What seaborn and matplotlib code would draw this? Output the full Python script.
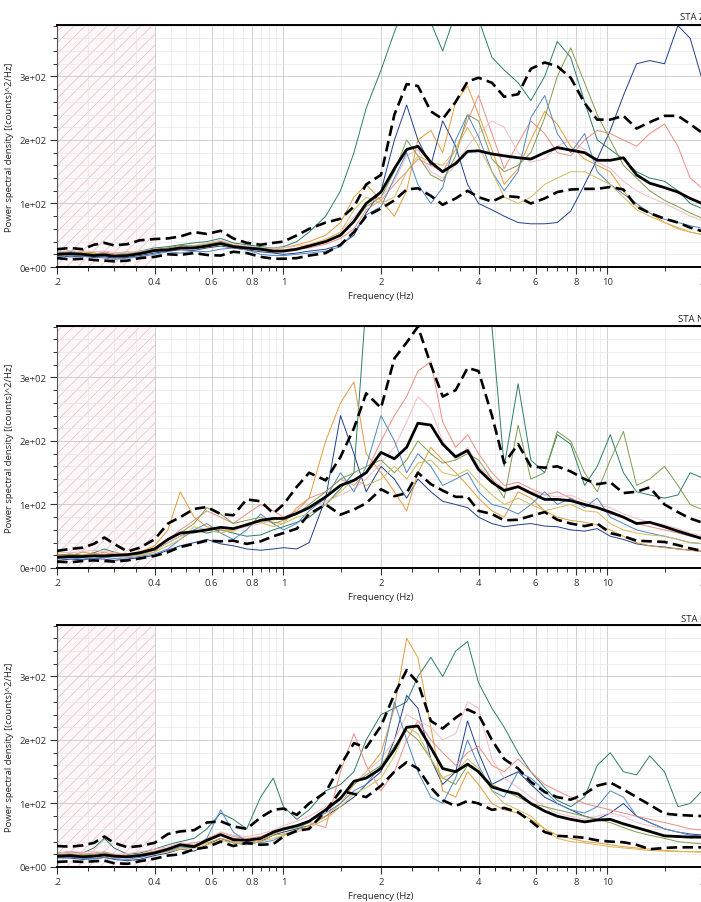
import matplotlib
matplotlib.use("Agg")
import matplotlib.pyplot as plt
import seaborn as sns
import pandas as pd
from matplotlib.ticker import FixedLocator, FixedFormatter, NullFormatter

# ---------------- data ----------------
FREQ = [0.2, 0.22, 0.24, 0.26, 0.28, 0.3, 0.33, 0.36, 0.4, 0.44,
        0.48, 0.53, 0.58, 0.64, 0.7, 0.77, 0.85, 0.93, 1.0, 1.1,
        1.2, 1.35, 1.5, 1.65, 1.8, 2.0, 2.2, 2.4, 2.6, 2.85,
        3.1, 3.4, 3.7, 4.0, 4.4, 4.8, 5.3, 5.8, 6.4, 7.0,
        7.7, 8.5, 9.3, 10.2, 11.2, 12.3, 13.5, 15, 16.5, 18,
        20]

PANEL_TITLES = ["STA Z", "STA N", "STA E"]

# ---- STA Z ----
Z_MEAN = [20, 21, 20, 18, 19, 17, 18, 21, 26, 27,
          30, 30, 33, 37, 32, 30, 28, 25, 25, 28,
          33, 40, 50, 72, 100, 118, 155, 185, 190, 165,
          150, 163, 182, 183, 178, 175, 172, 170, 180, 188,
          184, 180, 168, 168, 172, 145, 132, 125, 118, 108,
          98]
Z_UP = [28, 30, 28, 35, 38, 34, 36, 42, 44, 45,
        48, 55, 52, 57, 45, 38, 35, 38, 40, 50,
        60, 70, 76, 95, 130, 145, 240, 288, 285, 245,
        233, 260, 292, 298, 290, 268, 272, 312, 322, 316,
        298, 258, 232, 232, 238, 218, 228, 238, 238, 225,
        208]
Z_LO = [14, 12, 13, 11, 10, 9, 10, 14, 16, 20,
        19, 22, 19, 18, 24, 22, 16, 13, 13, 14,
        18, 22, 35, 55, 80, 92, 105, 122, 124, 112,
        98, 108, 120, 110, 103, 112, 110, 100, 108, 118,
        122, 123, 123, 126, 122, 95, 85, 76, 70, 62,
        55]
Z_T1 = [22, 24, 22, 20, 22, 20, 21, 25, 30, 32,
        35, 38, 40, 45, 38, 35, 32, 30, 32, 40,
        55, 80, 120, 180, 250, 310, 370, 420, 410, 385,
        340, 400, 420, 390, 330, 310, 290, 262, 300, 355,
        330, 260, 200, 185, 170, 150, 140, 135, 120, 100,
        90]
Z_T2 = [18, 16, 17, 15, 16, 14, 15, 18, 22, 25,
        27, 26, 30, 33, 30, 27, 24, 22, 20, 22,
        25, 28, 35, 50, 85, 120, 200, 255, 200, 160,
        230, 190, 130, 100, 90, 80, 70, 68, 68, 70,
        88, 130, 170, 215, 270, 320, 325, 320, 380, 360,
        280]
Z_T3 = [25, 22, 24, 22, 20, 22, 24, 22, 26, 28,
        32, 30, 35, 40, 35, 32, 30, 28, 30, 35,
        40, 50, 70, 110, 130, 105, 80, 120, 200, 215,
        180, 260, 285, 240, 185, 130, 155, 200, 245, 225,
        190, 170, 160, 150, 120, 95, 85, 70, 62, 55,
        50]
Z_T4 = [20, 22, 21, 20, 24, 20, 18, 20, 24, 26,
        28, 32, 31, 36, 30, 28, 27, 24, 26, 28,
        30, 36, 45, 60, 90, 105, 130, 150, 170, 160,
        150, 185, 230, 270, 210, 155, 195, 230, 210, 180,
        175, 200, 215, 210, 200, 190, 210, 225, 190, 140,
        120]
Z_T5 = [24, 26, 25, 24, 25, 23, 22, 25, 28, 30,
        32, 34, 38, 42, 36, 33, 30, 30, 30, 33,
        36, 42, 55, 78, 100, 110, 135, 175, 185, 150,
        140, 160, 190, 210, 230, 220, 180, 165, 170, 190,
        200, 185, 165, 155, 135, 120, 110, 100, 90, 80,
        72]
Z_T6 = [16, 18, 17, 16, 14, 12, 14, 16, 20, 24,
        22, 25, 24, 28, 30, 27, 20, 18, 18, 20,
        22, 25, 32, 55, 82, 95, 140, 180, 130, 100,
        125, 200, 240, 205, 150, 120, 150, 235, 270, 210,
        180, 210, 150, 130, 115, 100, 85, 75, 70, 65,
        60]
Z_T7 = [22, 20, 21, 22, 20, 18, 20, 23, 28, 30,
        34, 33, 36, 40, 34, 30, 30, 26, 25, 28,
        32, 40, 52, 70, 95, 110, 150, 200, 175, 145,
        135, 175, 240, 230, 170, 150, 160, 180, 235, 300,
        345, 290, 240, 200, 160, 140, 120, 105, 95, 85,
        75]
Z_T8 = [19, 21, 22, 20, 18, 17, 19, 22, 25, 27,
        29, 30, 32, 35, 32, 30, 28, 26, 27, 30,
        35, 44, 55, 90, 110, 100, 110, 150, 175, 165,
        160, 185, 220, 190, 150, 110, 100, 110, 130, 140,
        150, 150, 140, 130, 110, 90, 80, 70, 60, 55,
        50]

# ---- STA N ----
N_MEAN = [17, 18, 18, 19, 19, 20, 21, 24, 30, 45,
          55, 57, 60, 64, 62, 68, 75, 78, 78, 86,
          95, 112, 130, 138, 150, 182, 172, 190, 228, 225,
          195, 175, 185, 155, 135, 122, 128, 118, 108, 108,
          106, 100, 95, 88, 80, 70, 72, 65, 58, 52,
          45]
N_UP = [27, 30, 32, 38, 48, 38, 26, 32, 45, 70,
        80, 93, 96, 85, 83, 108, 105, 86, 100, 128,
        150, 138, 175, 220, 275, 252, 330, 355, 380, 320,
        270, 280, 315, 310, 240, 165, 195, 160, 158, 160,
        152, 140, 132, 135, 118, 120, 127, 100, 88, 78,
        70]
N_LO = [10, 9, 11, 12, 11, 10, 12, 15, 19, 25,
        33, 38, 43, 42, 43, 38, 42, 50, 55, 62,
        85, 100, 84, 92, 102, 124, 113, 118, 150, 132,
        122, 112, 112, 90, 85, 75, 76, 82, 88, 76,
        70, 66, 70, 55, 50, 43, 42, 41, 36, 31,
        26]
N_T1 = [20, 22, 20, 24, 30, 25, 20, 22, 28, 40,
        50, 60, 55, 60, 55, 50, 52, 60, 65, 72,
        80, 100, 125, 150, 420, 420, 420, 420, 420, 420,
        420, 420, 420, 420, 380, 160, 290, 170, 150, 210,
        195, 130, 160, 210, 150, 120, 115, 110, 115, 150,
        140]
N_T2 = [12, 14, 13, 15, 14, 12, 14, 16, 20, 28,
        35, 40, 45, 38, 35, 30, 28, 30, 32, 30,
        40, 110, 240, 180, 120, 160, 140, 110, 140, 120,
        105, 100, 95, 80, 70, 65, 68, 70, 66, 65,
        60, 58, 62, 50, 45, 38, 35, 33, 30, 28,
        26]
N_T3 = [22, 20, 25, 22, 20, 24, 22, 25, 35, 60,
        120, 80, 65, 60, 58, 70, 75, 72, 70, 95,
        110, 200, 260, 293, 180, 150, 120, 90, 150, 190,
        170, 150, 130, 110, 90, 80, 120, 110, 90, 80,
        75, 72, 68, 60, 50, 40, 35, 32, 30, 28,
        25]
N_T4 = [18, 20, 19, 22, 25, 20, 18, 20, 25, 45,
        60, 75, 90, 80, 70, 85, 100, 90, 80, 90,
        110, 120, 140, 130, 150, 200, 240, 270, 310, 325,
        230, 190, 210, 180, 150, 130, 135, 125, 115, 120,
        110, 100, 95, 85, 80, 70, 65, 60, 55, 50,
        45]
N_T5 = [25, 24, 26, 28, 26, 24, 22, 26, 30, 40,
        50, 55, 60, 65, 60, 65, 70, 75, 80, 85,
        95, 105, 115, 125, 140, 165, 190, 230, 270, 250,
        200, 170, 190, 160, 140, 125, 130, 120, 115, 112,
        115, 105, 100, 95, 85, 78, 72, 68, 62, 55,
        50]
N_T6 = [15, 16, 14, 15, 17, 15, 16, 18, 22, 30,
        45, 60, 70, 55, 45, 60, 85, 70, 60, 70,
        90, 110, 150, 120, 160, 240, 200, 150, 180, 160,
        130, 140, 150, 120, 100, 95, 85, 100, 120, 100,
        110, 95, 110, 80, 70, 60, 55, 50, 45, 40,
        38]
N_T7 = [20, 21, 20, 22, 20, 18, 20, 22, 28, 45,
        55, 70, 95, 85, 70, 75, 80, 70, 75, 85,
        100, 120, 140, 150, 160, 170, 150, 170, 200, 180,
        165, 170, 180, 170, 140, 110, 225, 140, 150, 215,
        200, 150, 120, 170, 215, 130, 140, 160, 130, 100,
        90]
N_T8 = [20, 18, 20, 21, 22, 20, 19, 20, 25, 35,
        45, 65, 60, 55, 60, 70, 72, 65, 70, 80,
        85, 100, 120, 140, 130, 140, 160, 140, 165, 170,
        150, 145, 155, 135, 115, 100, 110, 100, 90, 95,
        100, 90, 88, 70, 60, 55, 52, 50, 45, 40,
        38]

# ---- STA E ----
E_MEAN = [17, 18, 16, 17, 19, 17, 16, 18, 22, 28,
          35, 32, 42, 51, 43, 42, 45, 55, 60, 65,
          72, 90, 108, 135, 140, 155, 185, 220, 222, 188,
          155, 150, 162, 150, 126, 120, 115, 100, 88, 80,
          75, 71, 74, 75, 68, 62, 56, 49, 48, 47,
          47]
E_UP = [33, 32, 34, 38, 48, 38, 31, 33, 38, 52,
        56, 58, 70, 72, 64, 60, 78, 90, 92, 82,
        100, 118, 160, 195, 188, 222, 272, 310, 290, 230,
        218, 235, 248, 240, 200, 170, 155, 134, 118, 110,
        106, 115, 128, 133, 122, 110, 98, 84, 82, 81,
        80]
E_LO = [8, 9, 8, 9, 10, 6, 5, 9, 13, 18,
        20, 28, 31, 40, 33, 38, 35, 36, 48, 57,
        60, 88, 120, 115, 110, 128, 150, 165, 155, 125,
        105, 96, 104, 100, 90, 93, 86, 72, 55, 49,
        48, 46, 42, 40, 39, 35, 28, 30, 31, 31,
        31]
E_T1 = [22, 24, 22, 30, 45, 30, 20, 22, 28, 35,
        40, 45, 60, 85, 75, 60, 110, 140, 95, 75,
        90, 120, 130, 150, 200, 240, 250, 260, 300, 330,
        300, 340, 355, 290, 250, 220, 180, 150, 125, 105,
        95, 110, 160, 180, 150, 145, 175, 150, 95, 100,
        125]
E_T2 = [15, 14, 12, 13, 15, 12, 10, 12, 18, 22,
        28, 25, 35, 45, 38, 35, 40, 50, 55, 60,
        65, 80, 95, 110, 130, 150, 200, 270, 250, 170,
        130, 150, 230, 180, 130, 140, 150, 130, 110, 100,
        90, 80, 75, 85, 100, 80, 70, 60, 55, 52,
        50]
E_T3 = [18, 20, 18, 17, 18, 16, 15, 18, 22, 25,
        30, 32, 38, 45, 40, 38, 42, 50, 52, 58,
        65, 80, 100, 130, 150, 180, 250, 360, 330, 220,
        120, 110, 150, 130, 100, 90, 85, 75, 60, 50,
        45, 40, 38, 35, 32, 30, 28, 26, 25, 24,
        24]
E_T4 = [20, 21, 20, 22, 24, 20, 18, 20, 25, 30,
        35, 38, 42, 55, 48, 45, 48, 55, 60, 65,
        70, 62, 150, 210, 160, 120, 150, 200, 230, 200,
        180, 160, 180, 190, 160, 150, 170, 150, 130, 120,
        110, 100, 95, 90, 85, 80, 75, 70, 65, 60,
        58]
E_T5 = [22, 24, 23, 25, 22, 20, 21, 24, 28, 32,
        38, 35, 45, 55, 50, 48, 52, 58, 65, 72,
        80, 95, 110, 130, 150, 170, 200, 240, 230, 220,
        200, 210, 260, 250, 170, 140, 125, 110, 95, 85,
        80, 75, 80, 85, 80, 70, 65, 60, 55, 50,
        48]
E_T6 = [14, 15, 14, 13, 15, 13, 12, 15, 20, 25,
        32, 30, 45, 90, 55, 40, 38, 42, 50, 58,
        72, 85, 100, 120, 130, 160, 260, 200, 150, 110,
        100, 140, 200, 160, 120, 110, 150, 140, 120, 100,
        90, 85, 95, 120, 110, 80, 70, 60, 55, 50,
        48]
E_T7 = [20, 18, 19, 20, 22, 19, 17, 19, 24, 28,
        36, 34, 40, 50, 45, 42, 45, 52, 58, 62,
        70, 90, 110, 130, 145, 160, 190, 215, 200, 170,
        140, 130, 160, 150, 130, 120, 110, 100, 95, 90,
        85, 80, 75, 70, 62, 55, 50, 45, 40, 38,
        36]
E_T8 = [16, 17, 16, 18, 17, 15, 16, 17, 20, 24,
        28, 30, 35, 42, 38, 36, 40, 45, 50, 55,
        62, 75, 95, 115, 125, 140, 175, 220, 210, 170,
        140, 150, 170, 155, 120, 100, 90, 80, 60, 45,
        40, 38, 35, 32, 30, 28, 26, 25, 24, 24,
        23]

THIN_COLORS = ["#2d7c6c", "#1f3f8c", "#e59a3a", "#ee8a80",
               "#f3b9c5", "#4f87c2", "#7e9d4c", "#d3bb58"]

X_MAJOR = [0.2, 0.4, 0.6, 0.8, 1, 2, 4, 6, 8, 10, 20]
X_LABELS = [".2", "0.4", "0.6", "0.8", "1", "2", "4", "6", "8", "10", "20"]
X_MINOR = [0.25, 0.3, 0.35, 0.45, 0.5, 0.55, 0.65, 0.7, 0.75, 0.85, 0.9, 0.95,
           1.5, 2.5, 3, 3.5, 4.5, 5, 5.5, 6.5, 7, 7.5, 8.5, 9, 9.5, 15]
Y_MAJOR = [0, 100, 200, 300]
Y_LABELS = ["0e+00", "1e+02", "2e+02", "3e+02"]
Y_MINOR = [20, 40, 60, 80, 120, 140, 160, 180, 220, 240, 260, 280, 320, 340, 360, 380]

PANELS = [
    (Z_MEAN, Z_UP, Z_LO, [Z_T1, Z_T2, Z_T3, Z_T4, Z_T5, Z_T6, Z_T7, Z_T8]),
    (N_MEAN, N_UP, N_LO, [N_T1, N_T2, N_T3, N_T4, N_T5, N_T6, N_T7, N_T8]),
    (E_MEAN, E_UP, E_LO, [E_T1, E_T2, E_T3, E_T4, E_T5, E_T6, E_T7, E_T8]),
]

# ---------------- style ----------------
sns.set_style("white")
plt.rcParams["font.family"] = ["Open Sans", "DejaVu Sans"]
plt.rcParams["hatch.linewidth"] = 0.5
plt.rcParams["hatch.color"] = "#e8bcc5"

W, H = 701, 903
fig = plt.figure(figsize=(W / 100, H / 100), dpi=100)

AX_LEFT = 57 / W
AX_W = (705 - 57) / W
AX_H = 242 / H
BOTTOMS_PX = [268, 569, 868]
TITLE_POS = [(680, 18), (678, 319), (681, 619)]

for i, (mean, up, lo, thin) in enumerate(PANELS):
    ax = fig.add_axes([AX_LEFT, 1 - BOTTOMS_PX[i] / H, AX_W, AX_H])
    ax.set_xscale("log")
    ax.set_xlim(0.2, 20)
    ax.set_ylim(0, 381)

    ax.axvspan(0.2, 0.4, facecolor="#fef7f9", edgecolor="#e8bcc5",
               hatch="///", linewidth=0, zorder=0)

    for vals, col in zip(thin, THIN_COLORS):
        df = pd.DataFrame({"f": FREQ, "p": vals})
        sns.lineplot(data=df, x="f", y="p", ax=ax, color=col, lw=0.7,
                     estimator=None, sort=False, zorder=2)
    for vals in (up, lo):
        df = pd.DataFrame({"f": FREQ, "p": vals})
        sns.lineplot(data=df, x="f", y="p", ax=ax, color="black", lw=1.9,
                     estimator=None, sort=False, zorder=3, dashes=False)
        ax.lines[-1].set_dashes((4, 2))
    df = pd.DataFrame({"f": FREQ, "p": mean})
    sns.lineplot(data=df, x="f", y="p", ax=ax, color="black", lw=2.0,
                 estimator=None, sort=False, zorder=4)

    ax.xaxis.set_major_locator(FixedLocator(X_MAJOR))
    ax.xaxis.set_major_formatter(FixedFormatter(X_LABELS))
    ax.xaxis.set_minor_locator(FixedLocator(X_MINOR))
    ax.xaxis.set_minor_formatter(NullFormatter())
    ax.yaxis.set_major_locator(FixedLocator(Y_MAJOR))
    ax.yaxis.set_major_formatter(FixedFormatter(Y_LABELS))
    ax.yaxis.set_minor_locator(FixedLocator(Y_MINOR))

    ax.grid(True, which="major", axis="both", color="#c9c9c9", lw=0.6, zorder=1)
    ax.grid(True, which="minor", axis="both", color="#e7e7e7", lw=0.5, zorder=1)
    ax.set_axisbelow(True)

    ax.tick_params(axis="both", which="major", direction="out", length=5,
                   width=0.8, labelsize=6.8, colors="#333333", pad=2.5)
    ax.tick_params(axis="both", which="minor", direction="out", length=3,
                   width=0.7, colors="#333333")
    ax.tick_params(axis="x", which="both", bottom=True, top=False)
    ax.tick_params(axis="y", which="both", left=True, right=False)

    for s in ("top", "bottom"):
        ax.spines[s].set_color("black")
        ax.spines[s].set_linewidth(1.4)
    ax.spines["left"].set_color("#555555")
    ax.spines["left"].set_linewidth(0.8)
    ax.spines["right"].set_visible(False)

    ax.set_xlabel("Frequency (Hz)", fontsize=6.8, labelpad=3, color="#222222")
    ax.set_ylabel("Power spectral density [(counts)^2/Hz]", fontsize=6.8,
                  labelpad=4, color="#222222")

    tx, ty = TITLE_POS[i]
    fig.text(tx / W, 1 - ty / H, PANEL_TITLES[i], fontsize=6.8,
             ha="left", va="center", color="#222222")

fig.savefig("out.png", dpi=100)
